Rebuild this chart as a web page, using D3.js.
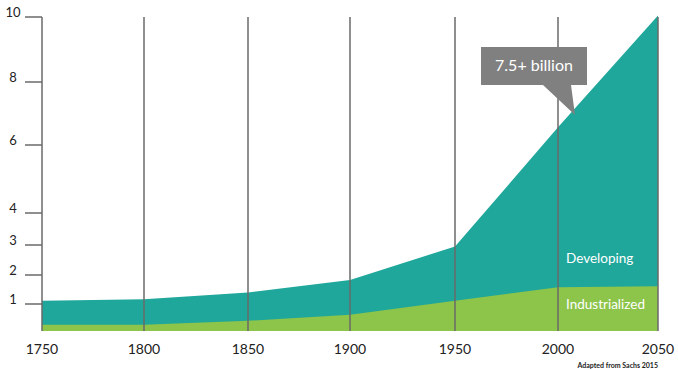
<!DOCTYPE html>
<html>
<head>
<meta charset="utf-8">
<script src="https://cdn.jsdelivr.net/npm/d3@7"></script>
<style>
  html, body { margin: 0; padding: 0; background: #fff; }
  svg { display: block; font-family: Lato, "Open Sans", sans-serif; }
</style>
</head>
<body>
<div id="chart"></div>
<script>
"use strict";

// World population, billions
const years = [1750, 1800, 1850, 1900, 1950, 2000, 2050];
const total = [1.11, 1.16, 1.40, 1.83, 2.95, 6.56, 10.05];
const industrialized = [0.23, 0.23, 0.38, 0.60, 1.11, 1.58, 1.61];

const yTicks = [1, 2, 3, 4, 6, 8, 10];
const seriesLabels = ["Developing", "Industrialized"];
const calloutText = "7.5+ billion";
const sourceText = "Adapted from Sachs 2015";

const TEAL = "#1fa79b";
const GREEN = "#8dc44a";
const GRID = "#6a6a6a";

const W = 678, H = 370;

const svg = d3.select("#chart")
  .append("svg")
    .attr("width", W)
    .attr("height", H);

// the original grid is hand-spaced, so both scales are piecewise
const x = d3.scaleLinear()
    .domain(years)
    .range([42, 144, 248, 350, 455, 558, 658]);

const y = d3.scaleLinear()
    .domain([0, 1, 2, 3, 4, 6, 8, 10])
    .range([331, 304, 275, 245, 213, 145, 82, 17]);

const rows = years.map((yr, i) => ({ year: yr, total: total[i], ind: industrialized[i] }));

const totalArea = d3.area()
    .x(d => x(d.year))
    .y0(y(0))
    .y1(d => y(d.total));

const indArea = d3.area()
    .x(d => x(d.year))
    .y0(y(0))
    .y1(d => y(d.ind));

svg.append("path")
    .datum(rows)
    .attr("fill", TEAL)
    .attr("d", totalArea);

svg.append("path")
    .datum(rows)
    .attr("fill", GREEN)
    .attr("d", indArea);

// vertical grid lines (the 1750 one doubles as the y axis)
svg.append("g")
  .selectAll("line")
  .data(years)
  .join("line")
    .attr("x1", d => x(d))
    .attr("x2", d => x(d))
    .attr("y1", y(10))
    .attr("y2", y(0))
    .attr("stroke", GRID)
    .attr("stroke-width", 1.5);

// y ticks
const yg = svg.append("g");
yg.selectAll("line")
  .data(yTicks)
  .join("line")
    .attr("x1", 25)
    .attr("x2", x(1750))
    .attr("y1", d => y(d))
    .attr("y2", d => y(d))
    .attr("stroke", GRID)
    .attr("stroke-width", 1.5);
yg.selectAll("text")
  .data(yTicks)
  .join("text")
    .attr("x", 13)
    .attr("y", d => y(d))
    .attr("text-anchor", "middle")
    .attr("font-size", 13)
    .attr("fill", "#222")
    .text(d => d);

// x labels
svg.append("g")
  .selectAll("text")
  .data(years)
  .join("text")
    .attr("x", d => x(d))
    .attr("y", 354)
    .attr("text-anchor", "middle")
    .attr("font-size", 14)
    .attr("fill", "#222")
    .text(d => d);

// series labels
svg.append("text")
    .attr("x", 566)
    .attr("y", 263)
    .attr("font-size", 13.5)
    .attr("fill", "#fff")
    .text(seriesLabels[0]);
svg.append("text")
    .attr("x", 566)
    .attr("y", 309)
    .attr("font-size", 13.5)
    .attr("fill", "#fff")
    .text(seriesLabels[1]);

// callout
const callout = svg.append("g");
callout.append("path")
    .attr("d", "M481,47 L587,47 L587,85 L571,85 L575,115 L543,85 L481,85 Z")
    .attr("fill", "#808080");
callout.append("text")
    .attr("x", 534)
    .attr("y", 71)
    .attr("text-anchor", "middle")
    .attr("font-size", 16)
    .attr("fill", "#fff")
    .text(calloutText);

// source
svg.append("text")
    .attr("x", 658)
    .attr("y", 368)
    .attr("text-anchor", "end")
    .attr("font-size", 7)
    .attr("font-weight", "bold")
    .attr("fill", "#222")
    .text(sourceText);
</script>
</body>
</html>
